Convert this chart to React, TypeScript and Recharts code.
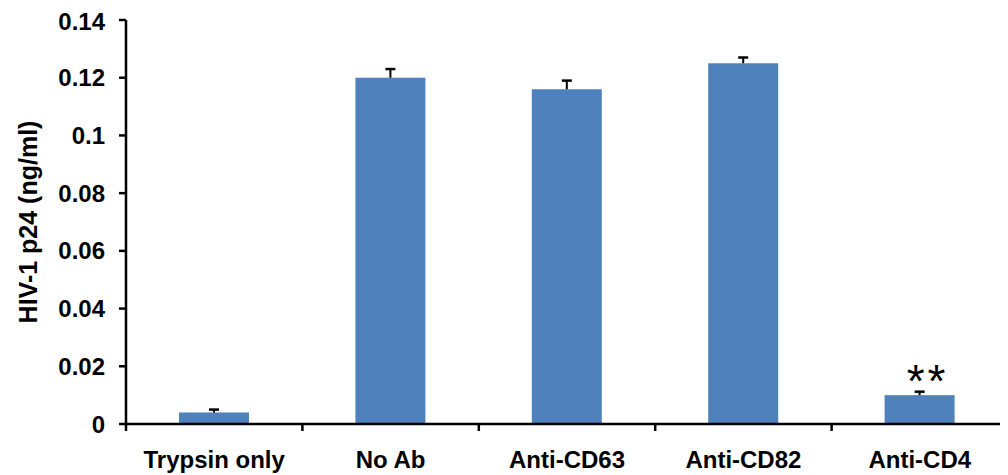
import { Bar, BarChart, XAxis, YAxis } from "recharts";

const categories = ["Trypsin only", "No Ab", "Anti-CD63", "Anti-CD82", "Anti-CD4"];
const meanP24 = [0.004, 0.12, 0.116, 0.125, 0.01];
const errUpper = [0.001, 0.003, 0.003, 0.002, 0.0012];
const significance = ["", "", "", "", "**"];
const yTicks = [0, 0.02, 0.04, 0.06, 0.08, 0.1, 0.12, 0.14];

const data = categories.map((name, i) => ({
  name,
  value: meanP24[i],
  err: errUpper[i],
  sig: significance[i],
}));

const font = "'Liberation Sans', Arial, sans-serif";
const X_TICK_SIZE = 13;
const X_TICK_MARGIN = 14;

function BarWithError(props: any) {
  const { x, y, width, height, fill, payload } = props;
  const pxPerUnit = height / payload.value;
  const ey = y - payload.err * pxPerUnit;
  const cx = x + width / 2;
  return (
    <g>
      <rect x={x} y={y} width={width} height={height} fill={fill} />
      <line x1={cx} x2={cx} y1={y} y2={ey} stroke="#000" strokeWidth={2} />
      <line x1={cx - 5} x2={cx + 5} y1={ey} y2={ey} stroke="#000" strokeWidth={2.5} />
      {payload.sig ? (
        <text
          x={cx + 8}
          y={ey + 5}
          textAnchor="middle"
          fontFamily={font}
          fontSize={46}
          letterSpacing={3}
          fill="#000"
        >
          {payload.sig}
        </text>
      ) : null}
    </g>
  );
}

// category label plus a tick mark on each category boundary
function CategoryTick(props: any) {
  const { x, y, payload, index, visibleTicksCount } = props;
  const half = payload.offset ?? 88;
  const axisY = y - X_TICK_SIZE - X_TICK_MARGIN;
  const isLast = index === (visibleTicksCount ?? categories.length) - 1;
  return (
    <g>
      <line x1={x - half} x2={x - half} y1={axisY} y2={axisY + 7} stroke="#000" strokeWidth={2.5} />
      {isLast ? (
        <line x1={x + half - 1} x2={x + half - 1} y1={axisY} y2={axisY + 7} stroke="#000" strokeWidth={2.5} />
      ) : null}
      <text
        x={x}
        y={y}
        dy="0.71em"
        textAnchor="middle"
        fontFamily={font}
        fontWeight="bold"
        fontSize={24}
        fill="#000"
      >
        {payload.value}
      </text>
    </g>
  );
}

function YLabel(props: any) {
  const { viewBox } = props;
  const cx = 20;
  const cy = viewBox.y + viewBox.height / 2;
  return (
    <text
      x={cx}
      y={cy}
      transform={`rotate(-90 ${cx} ${cy})`}
      textAnchor="middle"
      dominantBaseline="central"
      fontFamily={font}
      fontWeight="bold"
      fontSize={25}
      fill="#000"
    >
      HIV-1 p24 (ng/ml)
    </text>
  );
}

export default function App() {
  return (
    <BarChart
      width={1000}
      height={467}
      data={data}
      margin={{ top: 12, right: 0, bottom: 0, left: 0 }}
    >
      <XAxis
        dataKey="name"
        height={51}
        axisLine={{ stroke: "#000", strokeWidth: 2.5 }}
        tickLine={false}
        tickSize={X_TICK_SIZE}
        tickMargin={X_TICK_MARGIN}
        tick={<CategoryTick />}
        interval={0}
      />
      <YAxis
        width={118}
        domain={[0, 0.14]}
        ticks={yTicks}
        axisLine={{ stroke: "#000", strokeWidth: 2.5 }}
        tickLine={{ stroke: "#000", strokeWidth: 2.5 }}
        tickSize={7}
        tickMargin={14}
        tick={{ fill: "#000", fontFamily: font, fontWeight: "bold", fontSize: 24 }}
        label={<YLabel />}
      />
      <Bar
        dataKey="value"
        fill="#4F81BD"
        barSize={70}
        shape={<BarWithError />}
        isAnimationActive={false}
      />
    </BarChart>
  );
}
